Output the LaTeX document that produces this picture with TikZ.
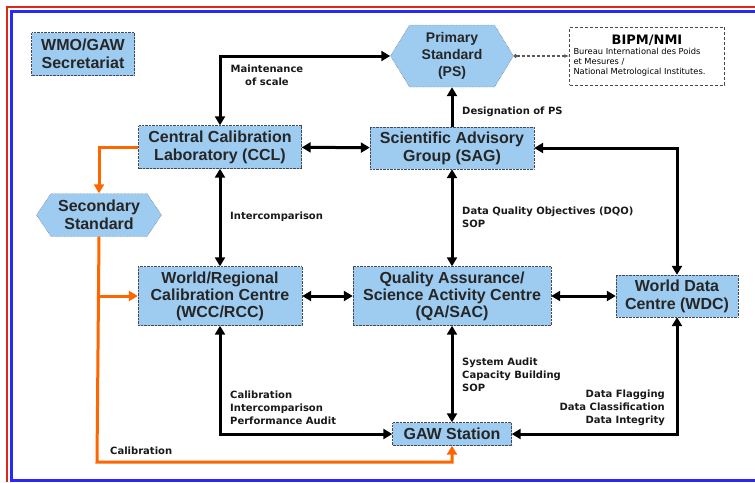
\documentclass[tikz,border=0pt]{standalone}
\usepackage{fontspec}
\setmainfont{Liberation Sans}
\newfontfamily\notefont{DejaVu Sans}
\usepackage{xcolor}
\usepackage{tikz}
\usetikzlibrary{arrows.meta,positioning,shapes.symbols,calc}
\definecolor{GawBlue}  {RGB}{158, 203, 240}
\definecolor{GawEdge}  {RGB}{ 70,  70,  90}
\definecolor{GawOrange}{RGB}{255, 102,   0}
\definecolor{FrameRed} {RGB}{220,  40,  20}
\definecolor{FrameBlue}{RGB}{ 40,  40, 250}

\tikzset{
  unitbox/.style={draw=GawEdge, densely dotted, fill=GawBlue, align=center,
    font=\bfseries\fontsize{16}{18}\selectfont, text=black!85, inner sep=1pt},
  hexbox/.style={unitbox, signal, signal to=west and east},
  twoway/.style={line width=3pt, {Triangle[length=9pt,width=10pt]}-{Triangle[length=9pt,width=10pt]}},
  oneway/.style={line width=3pt, -{Triangle[length=9pt,width=10pt]}},
  feed/.style={GawOrange, line width=3pt, -{Triangle[length=9pt,width=10pt]}},
  note/.style={font=\notefont\bfseries\fontsize{10}{13}\selectfont, inner sep=0pt, text=black!90}
}

\begin{document}
\begin{tikzpicture}[x=1pt,y=-1pt]
  \useasboundingbox (0,0) rectangle (755,482);
  % frame
  \draw[FrameRed, line width=2pt] (7,482) -- (7,7) -- (755,7);
  \draw[FrameBlue, line width=3pt] (755,11) -- (11,11) -- (11,480) -- (755,480);

  % boxes
  \node[unitbox, minimum width=103pt, minimum height=43pt] (wmo) at (83,54) {WMO/GAW\\Secretariat};
  \node[hexbox, minimum width=123pt, minimum height=62pt, signal pointer angle=117,
        font=\bfseries\fontsize{14}{17}\selectfont] (ps) at (452,56) {Primary\\Standard\\(PS)};
  \node[draw=GawEdge, densely dashed, fill=white, minimum width=155pt, minimum height=58pt,
        inner sep=3pt, align=left, font=\notefont\fontsize{8.3}{10}\selectfont] (bipm) at (647,56)
        {\makebox[147pt]{\bfseries\fontsize{13}{14}\selectfont BIPM/NMI}\\
         Bureau International des Poids\\ et Mesures /\\ National Metrological Institutes.};
  \node[unitbox, minimum width=163pt, minimum height=43pt] (ccl) at (220,147) {Central Calibration\\Laboratory (CCL)};
  \node[unitbox, minimum width=164pt, minimum height=42pt] (sag) at (452,148) {Scientific Advisory\\Group (SAG)};
  \node[hexbox, minimum width=125pt, minimum height=43pt, signal pointer angle=112] (sec) at (99,215) {Secondary\\Standard};
  \node[unitbox, minimum width=164pt, minimum height=59pt, font=\bfseries\fontsize{16}{17}\selectfont] (wcc) at (220,296) {World/Regional\\Calibration Centre\\(WCC/RCC)};
  \node[unitbox, minimum width=198pt, minimum height=59pt, font=\bfseries\fontsize{16}{17}\selectfont] (qa) at (452,296) {Quality Assurance/\\Science Activity Centre\\(QA/SAC)};
  \node[unitbox, minimum width=122pt, minimum height=42pt] (wdc) at (677,296) {World Data\\Centre (WDC)};
  \node[unitbox, minimum width=119pt, minimum height=23pt] (gaw) at (452,434) {GAW Station};

  % black links
  \draw[twoway] (ccl.north) |- (ps.west);
  \draw[oneway] (sag) -- (ps);
  \draw[twoway] (ccl) -- (sag);
  \draw[twoway] (ccl) -- (wcc);
  \draw[twoway] (sag) -- (qa);
  \draw[twoway] (wdc.north) |- (sag.east);
  \draw[twoway] (wcc) -- (qa);
  \draw[twoway] (qa) -- (wdc);
  \draw[twoway] (qa) -- (gaw);
  \draw[twoway] (wcc.south) |- (gaw.west);
  \draw[twoway] (wdc.south) |- (gaw.east);
  \draw[gray!70!black, line width=1.3pt, densely dashed, {Circle[length=3.5pt]}-{Latex[length=5pt]}] (ps.east) -- (bipm.west);

  % orange calibration lines
  \coordinate (low) at (97,462);
  \draw[feed] (ccl.west) -| (sec.north);
  \draw[feed] (sec.south) -- (low) -| (gaw.south);
  \draw[feed] (sec.south |- wcc.west) -- (wcc.west);

  % labels
  \node[note, align=center] (lmaint) at (267,75) {Maintenance\\of scale};
  \node[note, anchor=west] (ldesig) at (462,112) {Designation of PS};
  \node[note, anchor=west] (linter) at (230,217) {Intercomparison};
  \node[note, anchor=west, align=left] (ldqo) at (462,217) {Data Quality Objectives (DQO)\\SOP};
  \node[note, anchor=west, align=left] (laudit) at (462,375) {System Audit\\Capacity Building\\SOP};
  \node[note, anchor=west, align=left] (lcal) at (230,408) {Calibration\\Intercomparison\\Performance Audit};
  \node[note, anchor=east, align=right] (lflag) at (665,408) {Data Flagging\\Data Classification\\Data Integrity};
  \node[note, anchor=west] (lcal2) at (110,451) {Calibration};
\end{tikzpicture}
\end{document}
